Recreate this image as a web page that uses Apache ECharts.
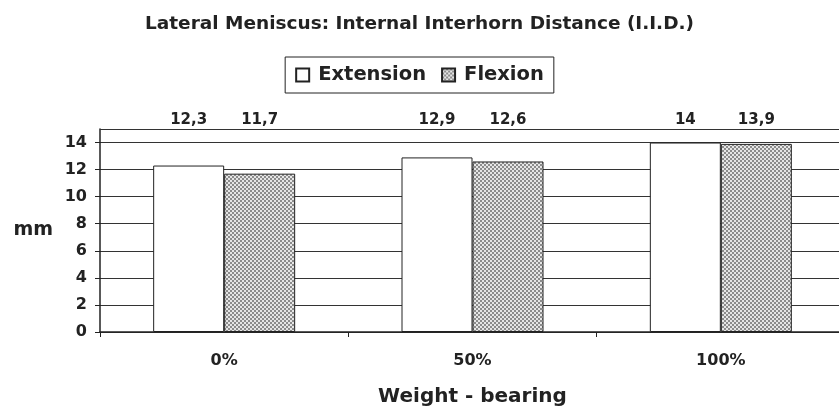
<!DOCTYPE html>
<html>
<head>
<meta charset="utf-8">
<script src="https://cdn.jsdelivr.net/npm/echarts@6/dist/echarts.min.js"></script>
<style>
  html, body { margin: 0; padding: 0; background: #fff; }
  #chart { width: 839px; height: 412px; }
</style>
</head>
<body>
<div id="chart"></div>
<script>
// data
var categories = ['0%', '50%', '100%']
var extension = [12.3, 12.9, 14]
var flexion = [11.7, 12.6, 13.9]
var yTicks = [0, 2, 4, 6, 8, 10, 12, 14]
var yMax = 15

// fine grey checker used for the Flexion bars
function makePattern() {
  var c = document.createElement('canvas')
  c.width = 4
  c.height = 4
  var ctx = c.getContext('2d')
  ctx.fillStyle = '#e6e6e6'
  ctx.fillRect(0, 0, 4, 4)
  ctx.fillStyle = '#8c8c8c'
  ctx.fillRect(0, 0, 2, 2)
  ctx.fillRect(2, 2, 2, 2)
  return c
}

var FONT = 'DejaVu Sans, sans-serif'
var chart = echarts.init(document.getElementById('chart'))
var gridTop = 129

// value labels sit in a row just above the plot frame
function labelAbove() {
  return { y: gridTop - 1, verticalAlign: 'bottom', align: 'center' }
}

function commaFmt(p) {
  return String(p.value).replace('.', ',')
}

chart.setOption({
  backgroundColor: '#fff',
  animation: false,
  title: {
    text: 'Lateral Meniscus: Internal Interhorn Distance (I.I.D.)',
    left: 'center',
    top: 10,
    textStyle: { fontFamily: FONT, fontSize: 18.5, fontWeight: 'bold', color: '#222' }
  },
  legend: {
    data: ['Extension', 'Flexion'],
    left: 'center',
    top: 57,
    borderColor: '#222',
    borderWidth: 1,
    padding: [8, 10, 8, 10],
    itemWidth: 13,
    itemHeight: 13,
    itemGap: 15,
    icon: 'rect',
    textStyle: { fontFamily: FONT, fontSize: 19.5, fontWeight: 'bold', color: '#222', padding: [0, 0, 0, 4] }
  },
  grid: {
    left: 100,
    right: -6,
    top: gridTop,
    bottom: 80,
    outerBoundsMode: 'none',
    containLabel: false
  },
  xAxis: {
    type: 'category',
    data: categories,
    name: 'Weight - bearing',
    nameLocation: 'middle',
    nameGap: 55,
    nameTextStyle: { fontFamily: FONT, fontSize: 20, fontWeight: 'bold', color: '#222' },
    axisLine: { lineStyle: { color: '#222', width: 1.5 } },
    axisTick: { show: true, length: 5, lineStyle: { color: '#222' } },
    axisLabel: { margin: 21, fontFamily: FONT, fontSize: 16, fontWeight: 'bold', color: '#222' }
  },
  yAxis: {
    type: 'value',
    min: 0,
    max: yMax,
    interval: 2,
    name: 'mm',
    nameLocation: 'middle',
    nameRotate: 0,
    nameGap: 47,
    nameTextStyle: { fontFamily: FONT, fontSize: 19, fontWeight: 'bold', color: '#222' },
    axisLine: { show: true, lineStyle: { color: '#222', width: 1.5 } },
    axisTick: { show: true, length: 5, lineStyle: { color: '#222' }, customValues: yTicks },
    axisLabel: { margin: 13, fontFamily: FONT, fontSize: 16, fontWeight: 'bold', color: '#222', customValues: yTicks },
    splitLine: { show: true, lineStyle: { color: '#333', width: 1 } }
  },
  series: [
    {
      name: 'Extension',
      type: 'bar',
      data: extension,
      barWidth: 71,
      barGap: '0%',
      itemStyle: { color: '#fff', borderColor: '#222', borderWidth: 1 },
      label: {
        show: true,
        position: 'top',
        formatter: commaFmt,
        fontFamily: FONT, fontSize: 15, fontWeight: 'bold', color: '#222'
      },
      labelLayout: labelAbove,
      // top edge of the plot frame
      markLine: {
        silent: true,
        symbol: 'none',
        label: { show: false },
        lineStyle: { color: '#333', width: 1, type: 'solid' },
        data: [{ yAxis: yMax }]
      }
    },
    {
      name: 'Flexion',
      type: 'bar',
      data: flexion,
      barWidth: 71,
      barGap: '0%',
      itemStyle: {
        color: { image: makePattern(), repeat: 'repeat' },
        borderColor: '#222',
        borderWidth: 1
      },
      label: {
        show: true,
        position: 'top',
        formatter: commaFmt,
        fontFamily: FONT, fontSize: 15, fontWeight: 'bold', color: '#222'
      },
      labelLayout: labelAbove
    }
  ]
})
</script>
</body>
</html>
